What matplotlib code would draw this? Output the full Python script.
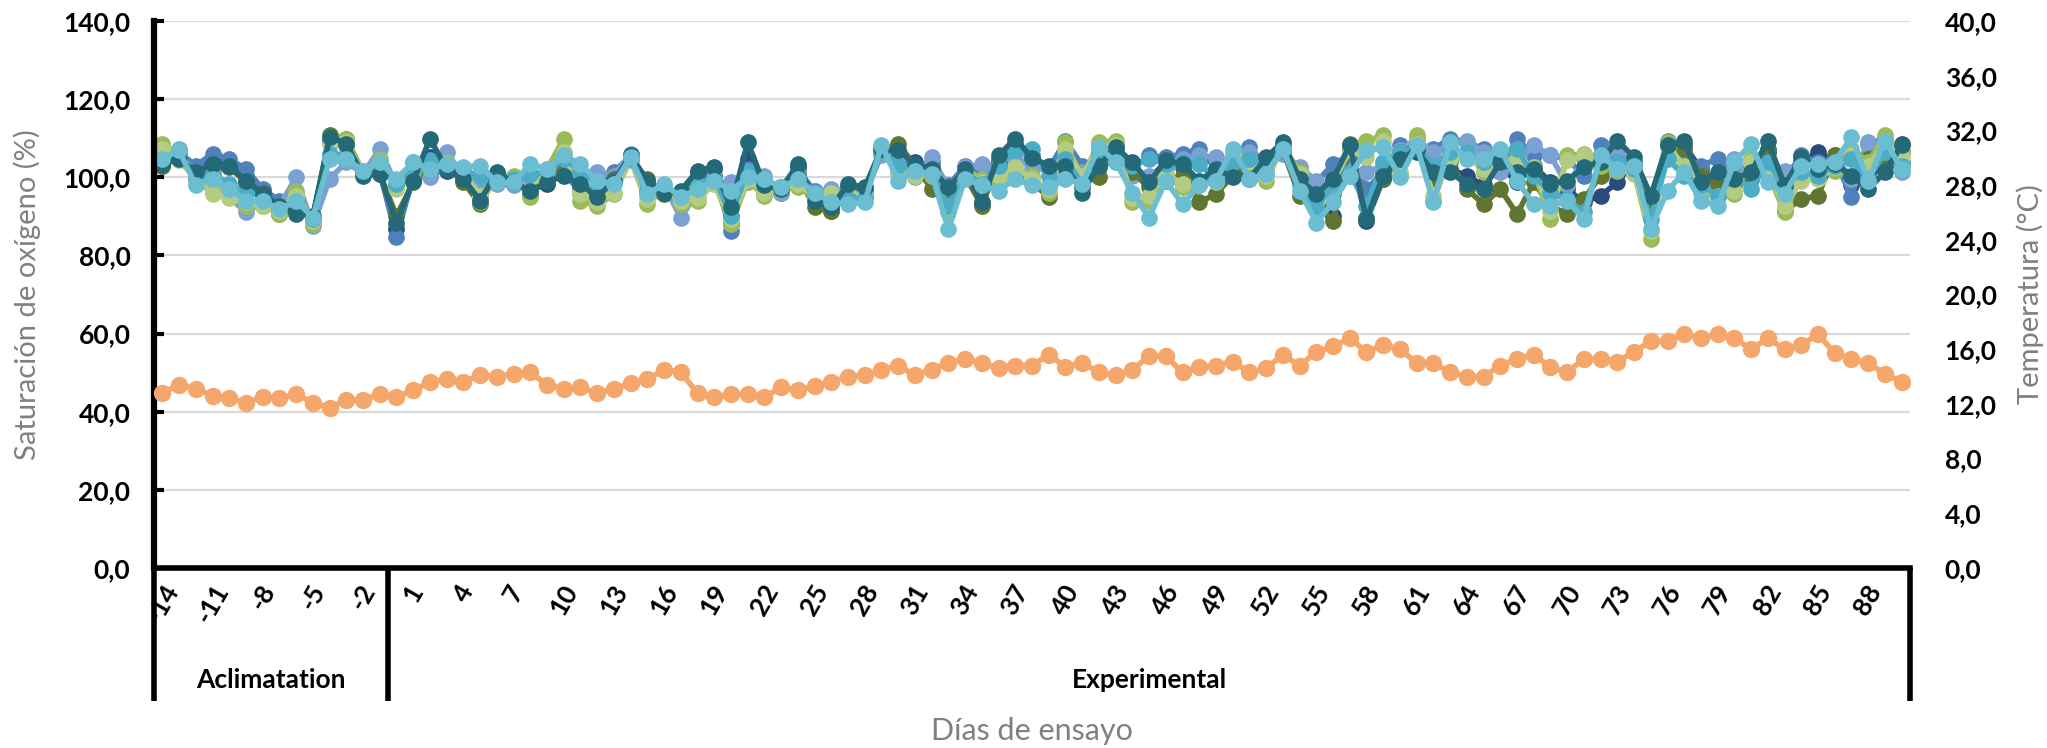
import matplotlib
matplotlib.use("Agg")
import matplotlib.pyplot as plt

# dias: aclimatacion -14..-1, ensayo 0..90
days = list(range(-14, 0)) + list(range(0, 91))

# temperatura (eje derecho, °C)
temperatura = [
    12.8, 13.4, 13.1, 12.6, 12.4, 12.1, 12.5, 12.4, 12.7, 12.1, 11.7, 12.3, 12.3, 12.7,
    12.5, 13.0, 13.6, 13.8, 13.6, 14.1, 14.0, 14.2, 14.3, 13.4, 13.1, 13.2, 12.8, 13.1,
    13.5, 13.8, 14.5, 14.3, 12.8, 12.5, 12.7, 12.7, 12.5, 13.2, 13.0, 13.3, 13.6, 14.0,
    14.1, 14.5, 14.8, 14.1, 14.5, 15.0, 15.3, 15.0, 14.6, 14.8, 14.8, 15.6, 14.7, 15.0,
    14.3, 14.1, 14.5, 15.5, 15.5, 14.3, 14.7, 14.8, 15.1, 14.3, 14.6, 15.6, 14.8, 15.8,
    16.2, 16.8, 15.8, 16.3, 16.0, 15.0, 15.0, 14.3, 14.0, 14.0, 14.8, 15.3, 15.6, 14.7,
    14.3, 15.3, 15.3, 15.1, 15.8, 16.6, 16.6, 17.1, 16.8, 17.1, 16.8, 16.0, 16.8, 16.0,
    16.3, 17.1, 15.7, 15.3, 15.0, 14.2, 13.6,
]

# saturacion de oxigeno (%) por tanque
navy = [
    103.4, 105.1, 102.6, 104.7, 103.4, 100.4, 96.6, 93.6, 91.8, 89.7, 109.9, 108.6, 100.9,
    101.3, 86.7, 99.6, 105.1, 101.7, 100.4, 94.8, 100.9, 98.7, 96.6, 98.3, 101.3, 97.4,
    95.3, 99.6, 105.2, 98.7, 96.6, 96.1, 101.3, 102.1, 88.0, 104.7, 98.3, 97.4, 102.6,
    95.3, 91.4, 97.4, 97.0, 107.3, 106.4, 103.9, 102.6, 96.6, 101.7, 93.1, 104.3, 108.6,
    104.7, 102.6, 104.3, 97.4, 102.6, 107.3, 103.0, 99.6, 103.9, 102.6, 98.3, 101.3, 100.9,
    101.3, 104.3, 108.2, 99.1, 94.8, 90.1, 107.3, 88.8, 99.6, 104.3, 106.4, 100.4, 102.1,
    100.4, 97.9, 103.0, 98.7, 103.0, 98.7, 97.0, 93.6, 95.3, 98.7, 103.9, 93.6, 108.2,
    108.2, 102.1, 98.7, 100.4, 101.3, 106.4, 96.1, 103.9, 106.4, 103.9, 97.9, 100.4, 103.0, 108.6,
]
blue = [
    103.0, 106.4, 103.0, 106.0, 104.7, 102.1, 97.0, 94.0, 92.7, 88.8, 109.4, 108.2, 101.3,
    101.3, 84.6, 100.4, 100.4, 102.1, 101.3, 96.1, 98.7, 98.3, 100.0, 99.1, 101.3, 96.1,
    97.0, 101.3, 105.6, 97.9, 97.0, 95.3, 99.6, 100.4, 86.3, 102.1, 98.7, 96.1, 101.7,
    96.6, 91.8, 96.1, 95.7, 106.4, 104.7, 102.6, 103.9, 97.9, 103.0, 100.4, 104.7, 107.3,
    105.6, 102.1, 109.4, 103.0, 103.9, 108.6, 102.1, 105.6, 105.1, 106.0, 107.3, 102.1, 105.6,
    107.7, 103.0, 107.3, 101.7, 98.7, 103.4, 105.6, 97.0, 101.3, 108.2, 107.3, 107.3, 109.9,
    109.0, 107.3, 102.1, 109.9, 105.6, 105.6, 104.7, 100.4, 108.2, 105.2, 103.4, 94.4, 109.4,
    105.2, 103.0, 104.7, 100.4, 103.0, 107.3, 99.6, 105.6, 103.9, 104.7, 94.9, 108.6, 109.9, 103.9,
]
light_blue = [
    104.3, 107.3, 99.6, 96.1, 94.9, 91.0, 93.6, 92.7, 100.0, 87.6, 99.6, 103.9, 100.9,
    107.3, 97.9, 103.9, 100.0, 106.4, 100.4, 98.7, 98.3, 97.9, 100.4, 99.6, 104.3, 100.4,
    101.3, 100.4, 106.0, 96.1, 97.9, 89.7, 96.1, 98.7, 98.7, 98.7, 100.4, 96.1, 100.9,
    96.1, 97.0, 96.1, 96.1, 105.6, 105.1, 100.0, 105.1, 97.4, 102.6, 103.4, 100.4, 105.6,
    102.1, 102.1, 105.6, 101.3, 103.0, 103.9, 100.4, 100.4, 100.4, 104.7, 105.6, 105.1, 103.0,
    106.4, 102.1, 106.0, 102.6, 99.1, 96.1, 100.4, 101.3, 103.0, 106.9, 109.9, 106.4, 108.2,
    109.4, 106.4, 101.3, 103.9, 108.2, 105.6, 97.9, 104.7, 103.0, 106.4, 103.9, 91.8, 109.0,
    107.3, 99.6, 97.4, 104.7, 99.6, 101.3, 101.7, 100.4, 101.3, 105.6, 99.6, 109.0, 108.2, 101.3,
]
dark_olive = [
    103.0, 105.1, 100.4, 102.1, 102.6, 98.7, 96.1, 90.6, 91.8, 89.3, 110.7, 109.9, 100.9,
    100.9, 90.1, 98.7, 103.9, 102.6, 98.7, 93.1, 100.9, 99.1, 95.7, 99.6, 101.3, 97.9,
    95.3, 99.6, 104.7, 99.6, 95.7, 95.7, 98.7, 100.4, 90.1, 100.4, 96.1, 97.4, 100.4,
    92.3, 91.4, 96.6, 96.6, 106.9, 108.6, 103.0, 97.0, 93.6, 100.4, 92.7, 103.9, 101.3,
    98.7, 94.9, 102.1, 99.6, 100.0, 108.2, 101.3, 97.4, 99.1, 100.4, 93.6, 95.7, 100.4,
    103.0, 104.7, 106.9, 95.3, 93.1, 88.8, 108.6, 89.7, 99.6, 106.4, 108.2, 99.6, 103.9,
    97.0, 93.1, 97.0, 90.6, 98.7, 92.7, 90.6, 94.4, 100.4, 103.9, 101.3, 91.8, 108.6,
    107.3, 100.4, 97.9, 97.9, 99.6, 106.9, 91.4, 94.4, 95.3, 105.6, 106.4, 104.7, 103.9, 106.4,
]
green = [
    108.6, 105.6, 100.4, 96.6, 95.7, 92.7, 92.7, 90.6, 96.6, 88.0, 110.3, 109.9, 101.3,
    104.7, 97.4, 101.3, 103.9, 103.9, 100.4, 93.6, 100.4, 100.4, 94.9, 102.1, 109.9, 94.0,
    92.7, 95.7, 104.7, 93.1, 97.0, 93.1, 94.0, 98.7, 88.0, 99.1, 95.3, 97.0, 97.4,
    94.9, 95.7, 95.3, 94.9, 107.3, 101.3, 101.3, 100.4, 91.0, 102.1, 99.6, 99.1, 101.7,
    100.4, 96.1, 109.0, 99.6, 109.0, 109.4, 93.6, 94.0, 100.4, 97.4, 97.9, 99.1, 106.4,
    104.7, 99.1, 108.2, 101.3, 92.7, 99.6, 108.2, 109.4, 110.7, 100.4, 110.7, 94.0, 105.6,
    106.4, 101.3, 105.1, 103.9, 101.7, 89.3, 105.6, 106.0, 103.0, 101.7, 101.3, 84.2, 109.0,
    102.1, 96.1, 94.9, 95.7, 104.7, 101.3, 91.0, 100.4, 100.4, 101.7, 107.3, 103.9, 110.7, 106.4,
]
light_green = [
    107.3, 104.3, 99.6, 95.7, 94.8, 93.6, 92.7, 91.4, 95.3, 88.8, 108.6, 109.0, 100.9,
    103.9, 97.0, 102.1, 103.0, 103.4, 101.3, 95.3, 100.0, 99.6, 96.6, 101.3, 106.4, 95.7,
    93.6, 96.1, 104.3, 94.4, 97.4, 94.0, 94.8, 98.3, 89.3, 99.6, 96.1, 97.4, 98.3,
    95.3, 96.1, 95.7, 95.7, 106.9, 100.9, 100.4, 100.9, 92.3, 101.7, 98.7, 100.4, 102.6,
    99.6, 97.0, 107.3, 100.4, 107.7, 108.2, 94.8, 95.3, 100.9, 98.3, 99.1, 98.7, 105.6,
    103.9, 100.4, 107.3, 100.9, 93.6, 98.7, 106.9, 105.1, 109.4, 101.3, 108.6, 95.3, 104.7,
    105.6, 102.1, 104.3, 104.7, 102.6, 91.4, 104.3, 105.6, 104.7, 102.6, 100.9, 86.3, 107.7,
    103.0, 97.4, 95.3, 96.6, 103.9, 100.9, 92.7, 99.1, 99.6, 102.6, 105.6, 103.0, 108.6, 105.1,
]
cyan = [
    104.3, 106.0, 99.6, 100.9, 98.3, 96.1, 95.3, 92.7, 93.6, 89.3, 106.0, 105.6, 101.7,
    103.0, 98.3, 102.1, 104.3, 102.6, 101.7, 100.4, 99.1, 99.6, 100.9, 101.3, 104.7, 101.7,
    97.9, 99.1, 104.7, 96.6, 97.4, 95.3, 98.3, 100.0, 90.1, 101.7, 98.7, 97.4, 100.4,
    95.7, 93.1, 94.4, 94.8, 106.9, 103.0, 102.6, 101.3, 92.7, 101.3, 98.3, 103.0, 106.9,
    107.3, 100.4, 104.7, 98.3, 106.4, 107.3, 103.0, 104.7, 103.4, 103.9, 103.4, 99.6, 103.9,
    104.7, 103.9, 106.9, 97.9, 91.8, 98.7, 101.3, 92.7, 103.9, 106.4, 107.7, 103.0, 106.4,
    106.4, 103.9, 105.6, 107.3, 100.4, 96.1, 94.4, 91.0, 104.7, 103.9, 102.1, 89.3, 104.7,
    100.4, 97.9, 95.3, 100.4, 97.0, 103.9, 97.4, 101.3, 100.4, 103.0, 104.7, 99.6, 106.4, 103.0,
]
dark_teal = [
    103.4, 104.7, 101.3, 103.4, 103.0, 99.1, 95.7, 92.7, 90.6, 90.1, 110.3, 108.6, 100.4,
    100.9, 88.4, 99.1, 109.9, 102.1, 99.6, 94.0, 101.3, 98.7, 96.6, 98.7, 100.4, 98.3,
    94.9, 99.1, 105.6, 99.1, 96.1, 96.6, 101.7, 102.6, 92.3, 109.0, 97.9, 97.0, 103.4,
    94.0, 92.3, 98.3, 97.4, 107.3, 106.9, 103.4, 102.1, 97.4, 102.1, 93.6, 105.6, 109.9,
    105.0, 103.0, 103.0, 96.1, 103.0, 107.7, 103.9, 98.7, 104.3, 103.4, 99.1, 102.1, 100.0,
    99.6, 105.1, 109.0, 99.6, 95.7, 99.6, 108.2, 89.3, 100.4, 104.7, 106.9, 101.3, 101.3,
    98.3, 97.0, 103.9, 101.3, 102.1, 98.3, 99.1, 102.6, 103.9, 109.4, 105.1, 95.3, 108.2,
    109.4, 98.7, 101.3, 99.6, 101.3, 109.4, 97.9, 105.1, 102.1, 103.4, 100.4, 97.0, 101.3, 108.2,
]
light_cyan = [
    104.7, 106.9, 97.9, 99.6, 97.0, 94.0, 94.0, 91.8, 94.0, 89.7, 104.7, 104.7, 101.7,
    103.9, 99.6, 103.9, 102.1, 103.4, 102.6, 103.0, 98.7, 98.7, 103.4, 102.1, 105.6, 103.4,
    99.1, 98.3, 105.1, 95.7, 98.3, 94.9, 97.0, 99.1, 96.6, 100.0, 99.6, 97.4, 99.6,
    96.1, 93.6, 93.1, 93.6, 108.2, 99.1, 101.7, 100.9, 86.7, 99.6, 97.9, 96.6, 99.6,
    97.9, 97.4, 99.6, 98.3, 107.7, 103.9, 96.1, 89.7, 99.1, 93.1, 97.9, 99.1, 107.3,
    99.6, 100.9, 107.3, 96.6, 88.4, 93.6, 100.4, 106.9, 107.7, 100.0, 108.2, 93.6, 109.0,
    104.7, 104.7, 107.3, 99.1, 93.1, 92.7, 94.0, 89.3, 105.6, 102.1, 103.0, 86.7, 96.6,
    101.3, 94.0, 92.7, 103.9, 108.6, 98.7, 95.7, 103.0, 103.4, 103.9, 110.3, 99.1, 109.4, 102.1,
]

oxigeno = [
    (navy, "#2A4B7C"),
    (blue, "#4F81BD"),
    (light_blue, "#7BA0D2"),
    (dark_olive, "#5F7530"),
    (green, "#9BBB59"),
    (light_green, "#B3CC82"),
    (cyan, "#4BACC6"),
    (dark_teal, "#236978"),
    (light_cyan, "#6BBED2"),
]

plt.rcParams['font.family'] = ['Lato', 'DejaVu Sans']

W, H = 2047, 748
fig = plt.figure(figsize=(W / 100, H / 100), dpi=100)
left, right, top, bottom = 154, 1910, 21, 568
ax = fig.add_axes([left / W, 1 - bottom / H, (right - left) / W, (bottom - top) / H])

x = list(range(len(days)))
for vals, col in oxigeno:
    ax.plot(x, vals, color=col, lw=4, marker='o', ms=11, mfc=col, mec=col,
            solid_joinstyle='round')

ax.set_xlim(-0.5, len(days) - 0.5)
ax.set_ylim(0, 140)
ax.set_yticks(range(0, 141, 20))
ax.set_yticklabels([f"{v:.1f}".replace('.', ',') for v in range(0, 141, 20)],
                   fontsize=19, fontweight='bold')
ax.yaxis.grid(True, color='#D9D9D9', lw=1.6)
ax.set_axisbelow(True)
ax.tick_params(axis='y', direction='in', length=7, width=3, pad=17, colors='black')

ax.set_xticks(x[::3])
ax.set_xticklabels([str(d) for d in days[::3]], rotation=60, fontsize=19,
                   fontweight='bold')
ax.tick_params(axis='x', length=0, pad=9)

for s in ['top', 'right']:
    ax.spines[s].set_visible(False)
ax.spines['left'].set_linewidth(4.5)
ax.spines['bottom'].set_linewidth(4)

ax.set_ylabel("Saturación de oxígeno (%)", fontsize=21, color='#808080', labelpad=16)

ax2 = ax.twinx()
ax2.plot(x, temperatura, color='#F5A66A', lw=4, marker='o', ms=11.5, mfc='#F5A66A',
         mec='#F5A66A')
ax2.set_ylim(0, 40)
ax2.set_yticks(range(0, 41, 4))
ax2.set_yticklabels([f"{v:.1f}".replace('.', ',') for v in range(0, 41, 4)],
                    fontsize=19, fontweight='bold')
ax2.tick_params(axis='y', length=0, pad=25)
for s in ax2.spines.values():
    s.set_visible(False)
ax2.set_ylabel("Temperatura (°C)", fontsize=21, color='#808080', labelpad=14)

# caja de categorias (aclimatacion / experimental)
trans = ax.get_xaxis_transform()
n_acl = sum(1 for d in days if d < 0)
y_low = -(701 - bottom) / (bottom - top)
for xb in [-0.5, n_acl - 0.5, len(days) - 0.5]:
    ax.plot([xb, xb], [0, y_low], color='black', lw=4, transform=trans, clip_on=False,
            solid_capstyle='butt')
y_grp = -(680 - bottom) / (bottom - top)
ax.text((n_acl - 1) / 2, y_grp, "Aclimatation", transform=trans, ha='center',
        va='center', fontsize=19, fontweight='bold')
ax.text((n_acl + len(days) - 1) / 2, y_grp, "Experimental", transform=trans,
        ha='center', va='center', fontsize=19, fontweight='bold')

fig.text((left + right) / 2 / W, 1 - 731 / H, "Días de ensayo", ha='center',
         va='center', fontsize=22, color='#808080')

fig.savefig("out.png", dpi=100)
